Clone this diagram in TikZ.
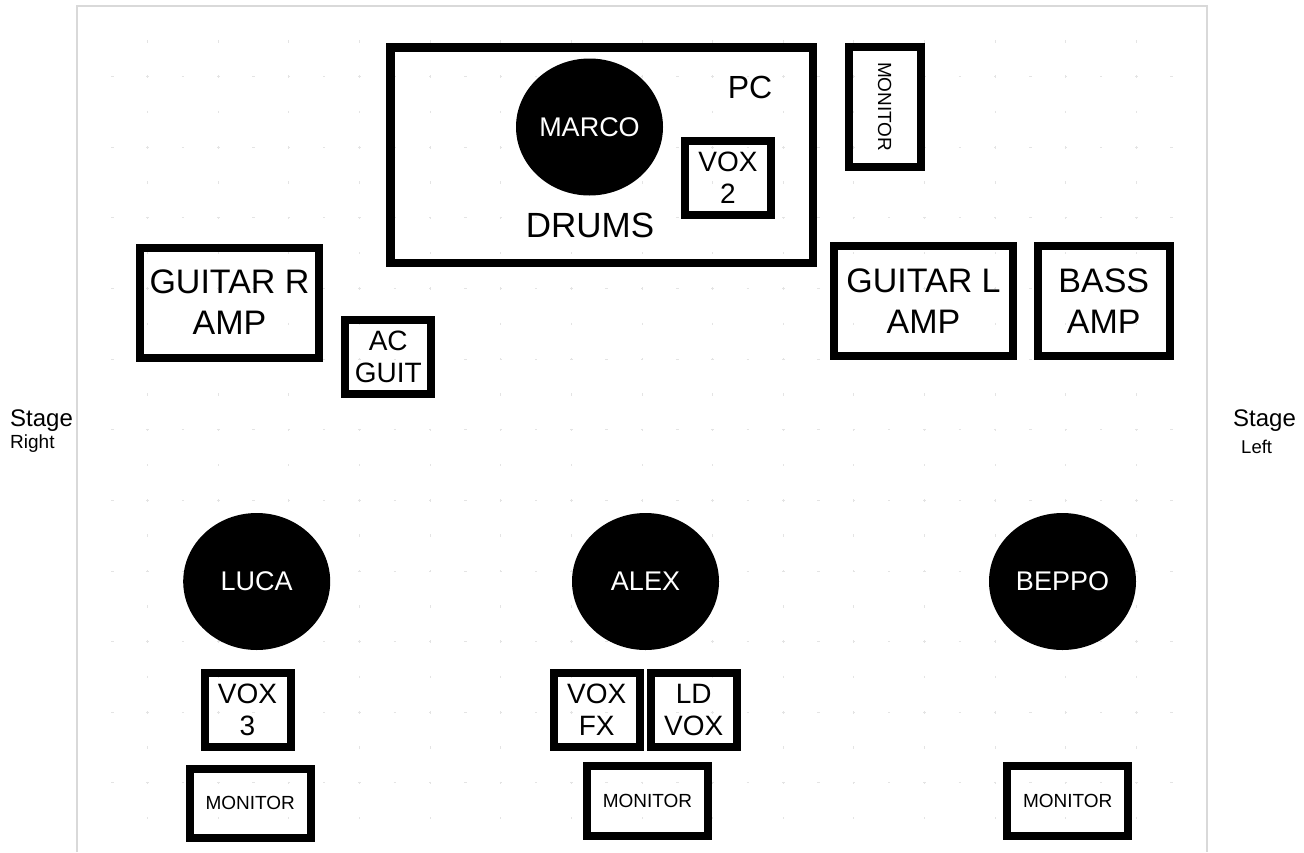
\documentclass[tikz,border=0pt]{standalone}
\usepackage{fontspec}
\setmainfont{Liberation Sans}
\usetikzlibrary{shapes.geometric}

\definecolor{stagegray}{HTML}{D9D9D9}
\definecolor{gridgray}{HTML}{E4E4E4}

\begin{document}
\begin{tikzpicture}[x=1pt, y=-1pt,
  gear/.style={draw, line width=8pt, inner sep=0pt, align=center},
  smallbox/.style={gear, minimum width=86pt, minimum height=74pt, font=\fontsize{28}{32}\selectfont},
  ampbox/.style={gear, minimum height=110pt, font=\fontsize{34}{41}\selectfont},
  monbox/.style={gear, minimum width=121pt, minimum height=70pt, font=\fontsize{19}{22}\selectfont},
  player/.style={ellipse, fill=black, text=white, minimum width=147pt, minimum height=137pt, inner sep=0pt, font=\fontsize{27}{30}\selectfont},
  gridline/.style={gridgray, line width=1pt, dash pattern=on 2.5pt off 32.8125pt, dash phase=1.25pt}]

\useasboundingbox (0,0) rectangle (1304,852);

\coordinate (BL) at (77,852);
\coordinate (TL) at (77,6);
\coordinate (TR) at (1207,6);
\coordinate (BR) at (1207,852);

% grid
\foreach \i in {1,...,15}
  \draw[gridline] ({77+70.625*\i},6) -- ({77+70.625*\i},852);
\foreach \j in {1,...,11}
  \draw[gridline] (77,{6+70.625*\j}) -- (1207,{6+70.625*\j});

\draw[stagegray, line width=1.2pt] (BL)--(TL)--(TR)--(BR);

% back line
\node[gear, line width=8.5pt, minimum width=422.5pt, minimum height=215.5pt] (drums) at (601.75,155.25) {};
\node[player] (marco) at (589.5,127) {MARCO};
\node[font=\fontsize{32}{36}\selectfont] (pc) at (750,87) {PC};
\node[font=\fontsize{35}{40}\selectfont] (drumstext) at (590,225) {DRUMS};
\node[smallbox] (vox2) at (728,177.75) {VOX\\2};
\node[monbox, minimum width=119.5pt, minimum height=71.5pt, rotate=-90] (mondrums) at (884.75,106.75) {MONITOR};

\node[ampbox, minimum width=179pt] (guitarR) at (229.5,302.5) {GUITAR R\\AMP};
\node[smallbox] (acguit) at (388.25,356.5) {AC\\GUIT};
\node[ampbox, minimum width=179pt] (guitarL) at (923.5,300.75) {GUITAR L\\AMP};
\node[ampbox, minimum width=131.5pt] (bass) at (1103.75,301) {BASS\\AMP};

\node[anchor=base west, inner sep=0pt, font=\fontsize{24}{28}\selectfont] (stageR) at (10,426.7) {Stage};
\node[anchor=base west, inner sep=0pt, font=\fontsize{19}{22}\selectfont] (sideR) at (10,448) {Right};
\node[anchor=base west, inner sep=0pt, font=\fontsize{24}{28}\selectfont] (stageL) at (1233,426) {Stage};
\node[anchor=base west, inner sep=0pt, font=\fontsize{18.5}{22}\selectfont] (sideL) at (1241,453) {Left};

% front line
\node[player] (luca) at (256.7,581.5) {LUCA};
\node[player] (alex) at (645.5,581.5) {ALEX};
\node[player] (beppo) at (1062.5,581.5) {BEPPO};

\node[smallbox] (vox3) at (247.5,709.75) {VOX\\3};
\node[smallbox] (voxfx) at (596.75,709.75) {VOX\\FX};
\node[smallbox] (ldvox) at (693.75,709.75) {LD\\VOX};

\node[monbox, minimum height=69pt] (monluca) at (250.25,803) {MONITOR};
\node[monbox] (monalex) at (647.5,801) {MONITOR};
\node[monbox] (monbeppo) at (1067.75,801) {MONITOR};

\end{tikzpicture}
\end{document}
